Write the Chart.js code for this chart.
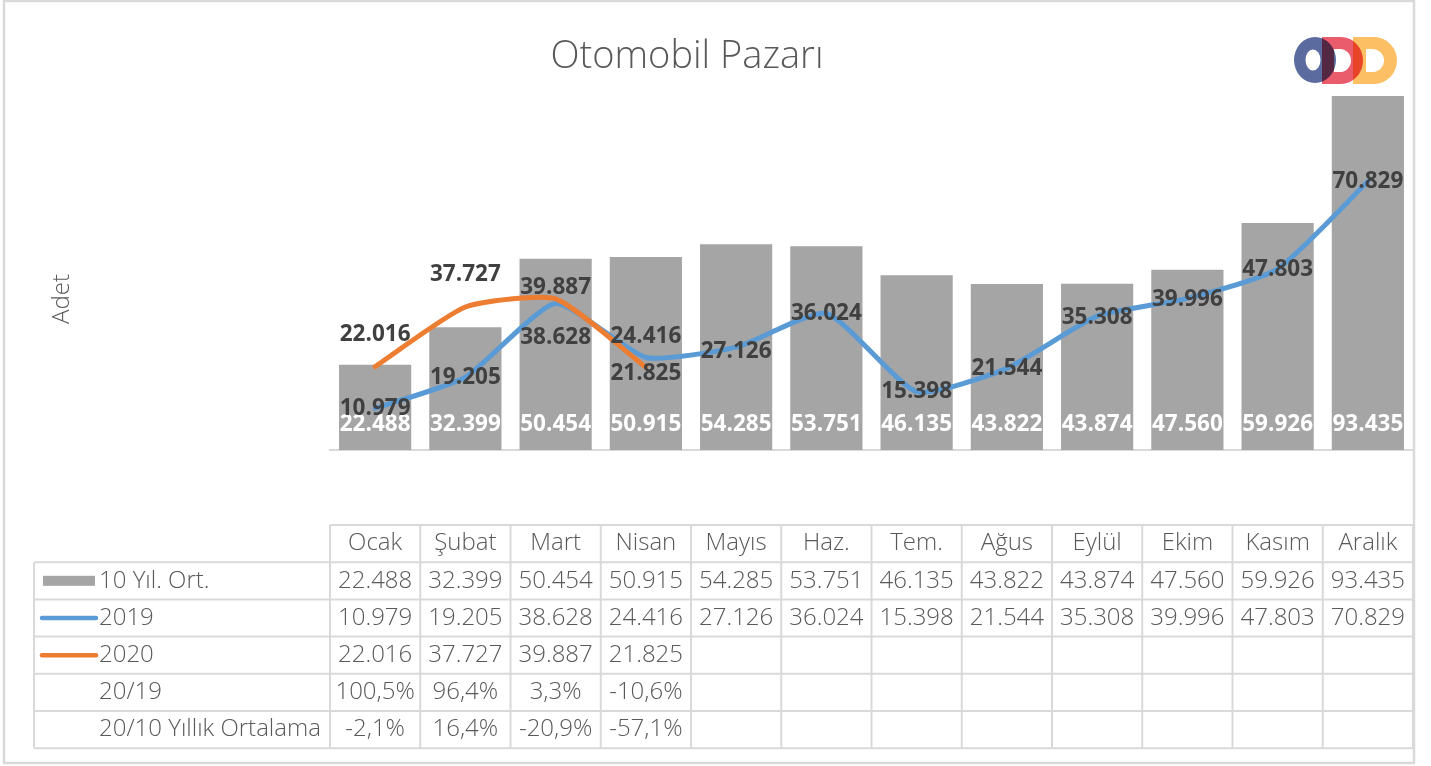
<!DOCTYPE html>
<html>
<head>
<meta charset="utf-8">
<title>Otomobil Pazarı</title>
<script src="https://cdn.jsdelivr.net/npm/chart.js@4.4.1/dist/chart.umd.min.js"></script>
<style>
  body { margin: 0; background: #ffffff; }
  canvas { display: block; }
</style>
</head>
<body>
<canvas id="otoChart" width="1431" height="766"></canvas>
<script>
// Chart data
const months = ["Ocak", "Şubat", "Mart", "Nisan", "Mayıs", "Haz.", "Tem.", "Ağus", "Eylül", "Ekim", "Kasım", "Aralık"];
const avg10 = [22488, 32399, 50454, 50915, 54285, 53751, 46135, 43822, 43874, 47560, 59926, 93435];
const sales2019 = [10979, 19205, 38628, 24416, 27126, 36024, 15398, 21544, 35308, 39996, 47803, 70829];
const sales2020 = [22016, 37727, 39887, 21825, null, null, null, null, null, null, null, null];
const change2019 = [100.5, 96.4, 3.3, -10.6];
const changeAvg = [-2.1, 16.4, -20.9, -57.1];

// label placement: vertical nudge (px) of each line label from its point
const shift2019 = [0, 0, 34, -21, 4, 0, 0, 0, 1, 1, 1, 0];
const shift2020 = [-32, -32, -11, 6];

const FONT = "'Open Sans', 'Century Gothic', sans-serif";
const GRID = "#d9d9d9";
const TEXT = "#595959";

// Turkish style thousand separator: 22488 -> 22.488
function fmt(v) {
  return Math.floor(v / 1000) + "." + String(v % 1000).padStart(3, "0");
}
function fmtPct(v) {
  return v.toFixed(1).replace(".", ",") + "%";
}

// Logo in the top right corner
function drawLogo(ctx) {
  ctx.save();
  ctx.globalCompositeOperation = "multiply";
  // O
  ctx.fillStyle = "#5b6b9f";
  ctx.beginPath();
  ctx.ellipse(1315, 60, 21, 23, 0, 0, Math.PI * 2);
  ctx.ellipse(1313, 60, 7.5, 10.5, 0, 0, Math.PI * 2);
  ctx.fill("evenodd");
  // two D's
  const ds = [
    { left: 1322, cx: 1341, rx: 22, inL: 1334, inCx: 1340, inRx: 11, color: "#ea5b6b" },
    { left: 1353, cx: 1374, rx: 23, inL: 1366, inCx: 1372, inRx: 12, color: "#fcbf63" },
  ];
  for (const d of ds) {
    ctx.fillStyle = d.color;
    ctx.beginPath();
    ctx.moveTo(d.left, 37);
    ctx.lineTo(d.cx, 37);
    ctx.ellipse(d.cx, 60.5, d.rx, 23.5, 0, -Math.PI / 2, Math.PI / 2);
    ctx.lineTo(d.left, 84);
    ctx.closePath();
    ctx.moveTo(d.inL, 49);
    ctx.lineTo(d.inCx, 49);
    ctx.ellipse(d.inCx, 60.5, d.inRx, 11.5, 0, -Math.PI / 2, Math.PI / 2);
    ctx.lineTo(d.inL, 72);
    ctx.closePath();
    ctx.fill("evenodd");
  }
  ctx.restore();
}

// Background, frame, title, axis title and logo
const decorPlugin = {
  id: "decor",
  beforeDraw(chart) {
    const ctx = chart.ctx;
    ctx.save();
    ctx.fillStyle = "#ffffff";
    ctx.fillRect(0, 0, chart.width, chart.height);
    ctx.strokeStyle = GRID;
    ctx.lineWidth = 2.5;
    ctx.strokeRect(4, 1, 1410, 762);

    ctx.fillStyle = TEXT;
    ctx.font = "300 38px " + FONT;
    ctx.textAlign = "center";
    ctx.textBaseline = "middle";
    ctx.fillText("Otomobil Pazarı", 687, 57);

    ctx.translate(62, 299);
    ctx.rotate(-Math.PI / 2);
    ctx.font = "300 24px " + FONT;
    ctx.fillText("Adet", 0, 0);
    ctx.restore();
  },
  afterDraw(chart) {
    drawLogo(chart.ctx);
  },
};

// Data labels on bars and lines
const labelPlugin = {
  id: "labels",
  afterDatasetsDraw(chart) {
    const ctx = chart.ctx;
    ctx.save();
    ctx.textAlign = "center";
    ctx.textBaseline = "middle";
    ctx.font = "bold 22.5px " + FONT;

    const bars = chart.getDatasetMeta(0).data;
    ctx.fillStyle = "#ffffff";
    bars.forEach((bar, i) => {
      ctx.fillText(fmt(avg10[i]), bar.x, chart.chartArea.bottom - 25);
    });

    ctx.fillStyle = "#404040";
    chart.getDatasetMeta(1).data.forEach((pt, i) => {
      ctx.fillText(fmt(sales2019[i]), pt.x, pt.y + shift2019[i]);
    });
    chart.getDatasetMeta(2).data.forEach((pt, i) => {
      if (sales2020[i] == null) return;
      ctx.fillText(fmt(sales2020[i]), pt.x, pt.y + shift2020[i]);
    });
    ctx.restore();
  },
};

// Data table under the plot, columns follow the x scale
const tablePlugin = {
  id: "dataTable",
  afterDraw(chart) {
    const ctx = chart.ctx;
    const xs = chart.scales.x;
    const left = chart.chartArea.left;
    const right = chart.chartArea.right;
    const colW = (right - left) / months.length;
    const top = 525;
    const rowH = 37.2;
    const tableLeft = 34;

    const rows = [
      { name: "10 Yıl. Ort.", values: avg10.map(fmt), key: "bar" },
      { name: "2019", values: sales2019.map(fmt), key: "#5b9bd5" },
      { name: "2020", values: sales2020.map((v) => (v == null ? "" : fmt(v))), key: "#ed7d31" },
      { name: "20/19", values: change2019.map(fmtPct) },
      { name: "20/10 Yıllık Ortalama", values: changeAvg.map(fmtPct) },
    ];

    ctx.save();
    ctx.strokeStyle = GRID;
    ctx.lineWidth = 2;
    ctx.beginPath();
    // horizontal lines
    ctx.moveTo(left, top);
    ctx.lineTo(right, top);
    for (let r = 1; r <= rows.length + 1; r++) {
      const y = top + r * rowH;
      ctx.moveTo(tableLeft, y);
      ctx.lineTo(right, y);
    }
    // vertical lines
    ctx.moveTo(tableLeft, top + rowH);
    ctx.lineTo(tableLeft, top + (rows.length + 1) * rowH);
    for (let c = 0; c <= months.length; c++) {
      const x = left + c * colW;
      ctx.moveTo(x, top);
      ctx.lineTo(x, top + (rows.length + 1) * rowH);
    }
    ctx.stroke();

    ctx.fillStyle = TEXT;
    ctx.font = "300 24px " + FONT;
    ctx.textBaseline = "middle";
    ctx.textAlign = "center";
    months.forEach((m, i) => {
      ctx.fillText(m, xs.getPixelForValue(i), top + rowH / 2);
    });

    rows.forEach((row, r) => {
      const yMid = top + (r + 1) * rowH + rowH / 2;
      // legend key
      if (row.key === "bar") {
        ctx.fillStyle = "#a5a5a5";
        ctx.fillRect(43, yMid - 5, 52, 10);
      } else if (row.key) {
        ctx.strokeStyle = row.key;
        ctx.lineWidth = 4.5;
        ctx.lineCap = "round";
        ctx.beginPath();
        ctx.moveTo(42, yMid);
        ctx.lineTo(96, yMid);
        ctx.stroke();
      }
      ctx.fillStyle = TEXT;
      ctx.textAlign = "left";
      ctx.fillText(row.name, 99, yMid);
      ctx.textAlign = "center";
      row.values.forEach((v, i) => {
        ctx.fillText(v, xs.getPixelForValue(i), yMid);
      });
    });
    ctx.restore();
  },
};

const ctx = document.getElementById("otoChart").getContext("2d");

new Chart(ctx, {
  type: "bar",
  data: {
    labels: months,
    datasets: [
      {
        label: "10 Yıl. Ort.",
        data: avg10,
        backgroundColor: "#a5a5a5",
        barPercentage: 0.8,
        categoryPercentage: 1,
        order: 3,
      },
      {
        type: "line",
        label: "2019",
        data: sales2019,
        borderColor: "#5b9bd5",
        borderWidth: 5,
        pointRadius: 0,
        tension: 0.18,
        borderCapStyle: "round",
        order: 2,
      },
      {
        type: "line",
        label: "2020",
        data: sales2020,
        borderColor: "#ed7d31",
        borderWidth: 5,
        pointRadius: 0,
        tension: 0.18,
        borderCapStyle: "round",
        spanGaps: false,
        order: 1,
      },
    ],
  },
  options: {
    responsive: false,
    animation: false,
    layout: {
      padding: { left: 330, right: 18, top: 71, bottom: 316 },
    },
    scales: {
      x: {
        grid: { display: false, drawTicks: false },
        ticks: { display: false },
        border: { color: GRID, width: 2 },
      },
      y: {
        display: false,
        min: 0,
        max: 100000,
      },
    },
    plugins: {
      legend: { display: false },
      tooltip: { enabled: false },
      title: { display: false },
    },
  },
  plugins: [decorPlugin, labelPlugin, tablePlugin],
});
</script>
</body>
</html>
